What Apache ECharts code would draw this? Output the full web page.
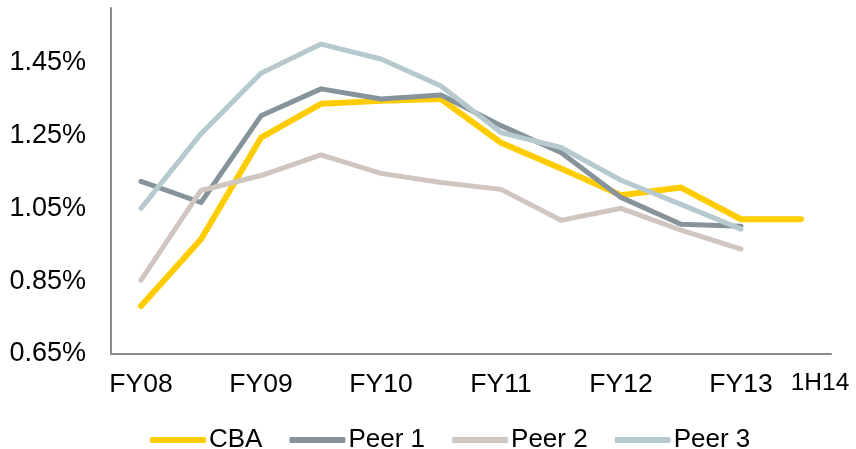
<!DOCTYPE html>
<html lang="en">
<head>
    <meta charset="UTF-8">
    <title>chart</title>
    <script src="https://cdn.jsdelivr.net/npm/echarts@6/dist/echarts.min.js"></script>
    <style>
        html, body { margin: 0; padding: 0; background: #fff; }
        #main { width: 856px; height: 449px; }
    </style>
</head>
<body>
    <div id="main"></div>
    <script type="text/javascript">
        // half-year periods, only FY and the last half shown as labels
        var categories = ['FY08', '1H09', 'FY09', '1H10', 'FY10', '1H11', 'FY11', '1H12', 'FY12', '1H13', 'FY13', '1H14'];
        var shownLabels = ['FY08', 'FY09', 'FY10', 'FY11', 'FY12', 'FY13', '1H14'];

        var cba   = [0.782, 0.965, 1.244, 1.337, 1.345, 1.350, 1.230, 1.159, 1.086, 1.107, 1.020, 1.020];
        var peer1 = [1.124, 1.066, 1.304, 1.378, 1.350, 1.361, 1.277, 1.203, 1.080, 1.006, 1.001, null];
        var peer2 = [0.853, 1.099, 1.140, 1.197, 1.146, 1.121, 1.102, 1.017, 1.050, 0.990, 0.938, null];
        var peer3 = [1.050, 1.255, 1.421, 1.501, 1.460, 1.386, 1.258, 1.217, 1.127, 1.061, 0.993, null];

        var yTicks = [0.65, 0.85, 1.05, 1.25, 1.45];

        var font = '"Liberation Sans", Arial, sans-serif';

        function mkLine(name, data, color, width) {
            return {
                name: name,
                type: 'line',
                data: data,
                symbol: 'none',
                smooth: false,
                lineStyle: { color: color, width: width, cap: 'round', join: 'round' },
                itemStyle: { color: color }
            };
        }

        var chart = echarts.init(document.getElementById('main'));
        var option = {
            animation: false,
            grid: { left: 111, right: 25, top: 8, bottom: 95, containLabel: false },
            legend: {
                top: 422,
                left: 145,
                icon: 'roundRect',
                itemWidth: 56,
                itemHeight: 6,
                itemGap: 27,
                textStyle: { fontFamily: font, fontSize: 26, color: '#000', padding: [0, 0, 0, -2] },
                data: ['CBA', 'Peer 1', 'Peer 2', 'Peer 3']
            },
            xAxis: {
                type: 'category',
                data: categories,
                boundaryGap: true,
                axisLine: { lineStyle: { color: '#8c8c8c', width: 2 } },
                axisTick: { show: false },
                axisLabel: {
                    interval: 0,
                    margin: 17,
                    fontFamily: font,
                    fontSize: 26.5,
                    color: '#000',
                    formatter: function (v) {
                        if (shownLabels.indexOf(v) < 0) return '';
                        if (v === '1H14') return '{h|' + v + '}';
                        return v;
                    },
                    rich: {
                        h: { fontFamily: font, fontSize: 24.5, color: '#000', padding: [0, 0, 6, 38] }
                    }
                }
            },
            yAxis: {
                type: 'value',
                min: 0.65,
                max: 1.6,
                interval: 0.05,
                axisLine: { show: true, lineStyle: { color: '#8c8c8c', width: 2 } },
                axisTick: { show: false },
                splitLine: { show: false },
                axisLabel: {
                    margin: 25,
                    fontFamily: font,
                    fontSize: 27,
                    color: '#000',
                    formatter: function (v) {
                        for (var i = 0; i < yTicks.length; i++) {
                            if (Math.abs(v - yTicks[i]) < 1e-6) return yTicks[i].toFixed(2) + '%';
                        }
                        return '';
                    }
                }
            },
            series: [
                mkLine('CBA', cba, '#ffcc00', 6),
                mkLine('Peer 1', peer1, '#86939b', 5),
                mkLine('Peer 2', peer2, '#d1c5bf', 5),
                mkLine('Peer 3', peer3, '#b6c9cf', 5)
            ]
        };
        chart.setOption(option);
    </script>
</body>
</html>
